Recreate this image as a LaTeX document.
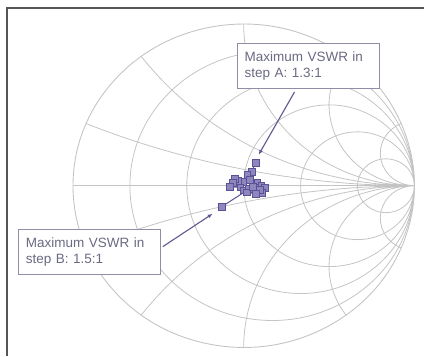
\documentclass[border=0pt]{standalone}
\usepackage{pgfplots}
\pgfplotsset{compat=1.18}
\usepgfplotslibrary{smithchart}
\usetikzlibrary{arrows.meta}
\usepackage{fontspec}
\setmainfont{Liberation Sans}
\definecolor{gridc}{HTML}{C4C4C4}
\definecolor{mk}{HTML}{5A5296}
\definecolor{mkfill}{HTML}{8F86BE}
\definecolor{txt}{HTML}{6A6A82}
\definecolor{boxc}{HTML}{8E8EA6}
\definecolor{arr}{HTML}{5E5890}
\definecolor{frame}{HTML}{555555}
\begin{document}
\begin{tikzpicture}[x=1pt,y=1pt]
\path (0,0) rectangle (425,356);
\draw[frame, line width=1.2pt] (7,0) -- (7,348) -- (425,348);
\begin{smithchart}[
  at={(244pt,170pt)}, anchor=center,
  width=342pt, height=324pt, scale only axis,
  xtick={0.2,0.5,1,2,5},
  ytick={-5,-2,-1,-0.5,-0.2,0.2,0.5,1,2,5},
  xticklabels={}, yticklabels={},
  major tick length=0pt, minor tick length=0pt,
  grid=major,
  major grid style={gridc, line width=0.8pt},
  axis line style={gridc, line width=0.9pt},
]
\addplot[is smithchart cs, mk, line width=1pt, mark=square*, mark size=3.3pt,
  mark options={fill=mkfill, draw=mk, line width=0.8pt}] coordinates {
  (0.070,0.142) (0.047,0.086) (0.023,0.068) (0.035,0.037) (-0.006,0.025)
  (-0.035,0.031) (-0.053,0.043) (-0.064,0.019) (-0.082,-0.006) (-0.020,-0.010)
  (0.000,-0.030) (0.030,-0.020) (0.053,-0.006) (0.080,0.020)
  (0.076,-0.012) (0.105,0.0) (0.123,-0.012) (0.110,-0.045) (0.094,-0.025)
  (0.070,-0.050) (0.020,-0.040) (0.053,-0.006)
  (-0.129,-0.130)
};
\end{smithchart}
\draw[arr, line width=1.1pt, -{Latex[length=5pt,width=4pt]}] (295,264) -- (259,201);
\draw[arr, line width=1.1pt, -{Latex[length=5pt,width=4pt]}] (163,109) -- (213,142);
\node[draw=boxc, line width=0.8pt, fill=white, minimum width=142pt, minimum height=46pt,
  text width=128pt, align=left, inner sep=0pt, font=\fontsize{13.5}{16.5}\selectfont, text=txt]
  at (309,290) {Maximum VSWR in\\step A: 1.3:1};
\node[draw=boxc, line width=0.8pt, fill=white, minimum width=143pt, minimum height=45pt,
  text width=127pt, align=left, inner sep=0pt, font=\fontsize{13.5}{16.5}\selectfont, text=txt]
  at (89.5,103.5) {Maximum VSWR in\\step B: 1.5:1};
\end{tikzpicture}
\end{document}
